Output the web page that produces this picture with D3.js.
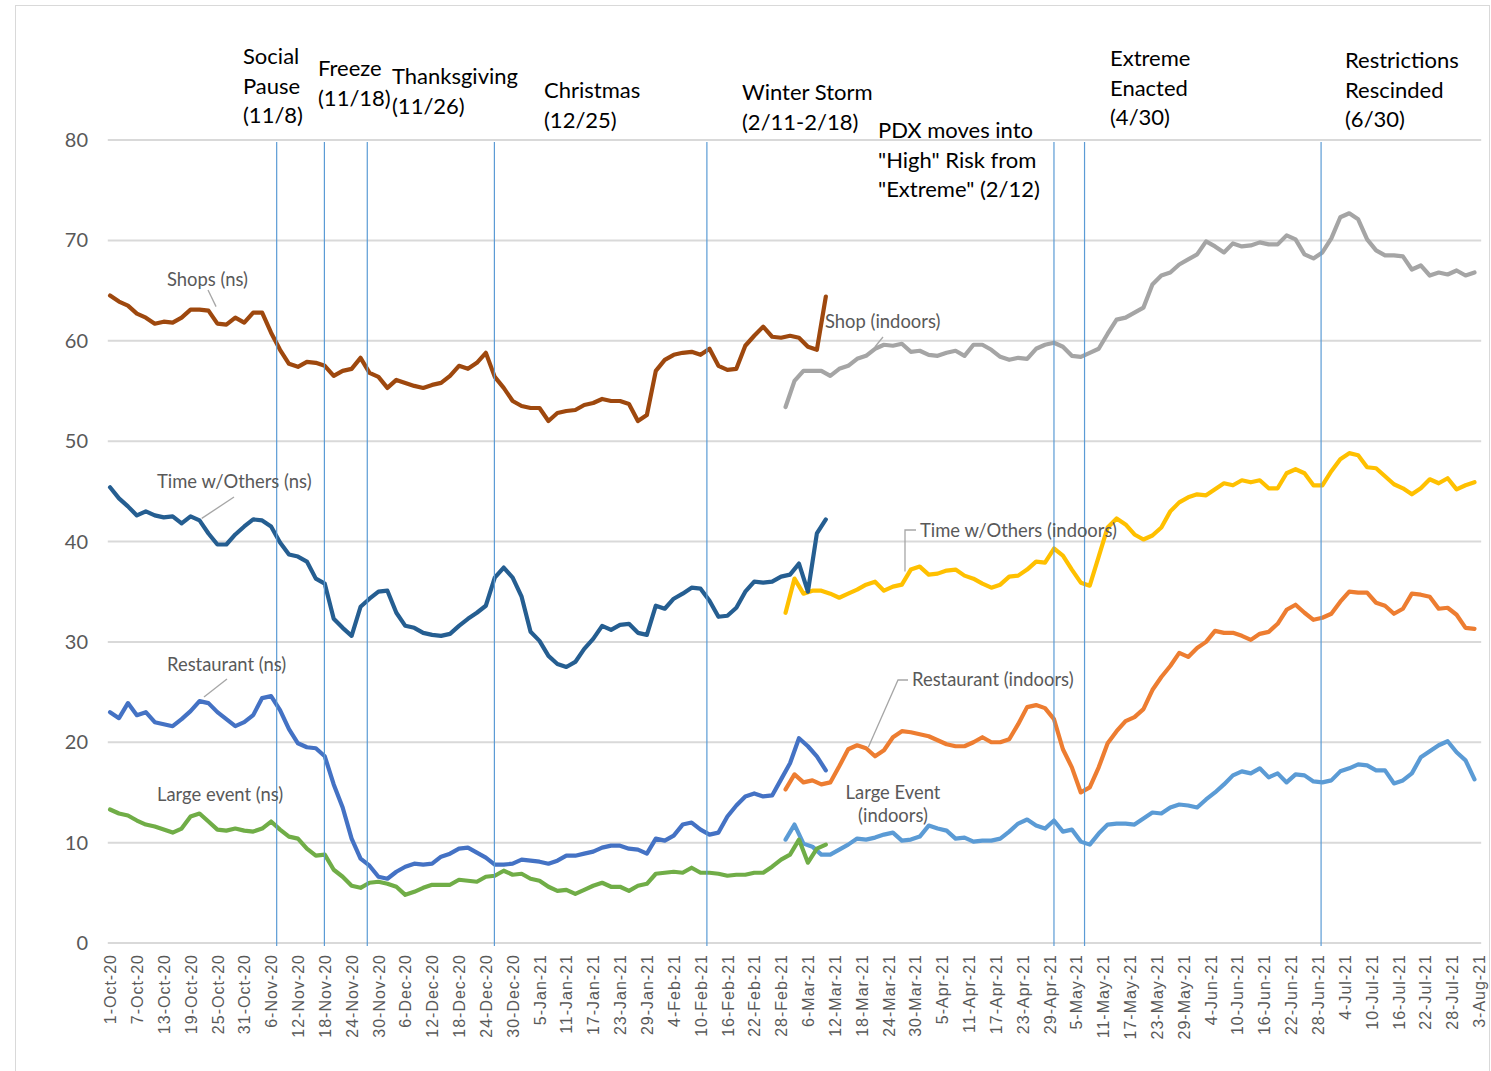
<!DOCTYPE html>
<html>
<head>
<meta charset="utf-8">
<script src="https://cdn.jsdelivr.net/npm/d3@7"></script>
<style>
  body { margin: 0; background: #fff; }
  svg { display: block; font-family: Lato, "Noto Sans", sans-serif; }
</style>
</head>
<body>
<div id="root"></div>
<script>
// "ns" series: every 2nd day from 1-Oct-20
const nsStart = "2020-10-01";
const shopsNs = [64.5,63.9,63.5,62.7,62.3,61.7,61.9,61.8,62.3,63.1,63.1,63.0,61.7,61.6,62.3,61.8,62.8,62.8,60.8,59.1,
  57.7,57.4,57.9,57.8,57.5,56.5,57.0,57.2,58.3,56.8,56.4,55.3,56.1,55.8,55.5,55.3,55.6,55.8,56.5,57.5,
  57.2,57.8,58.8,56.4,55.3,54.0,53.5,53.3,53.3,52.0,52.8,53.0,53.1,53.6,53.8,54.2,54.0,54.0,53.7,52.0,
  52.6,57.0,58.1,58.6,58.8,58.9,58.6,59.2,57.5,57.1,57.2,59.5,60.5,61.4,60.4,60.3,60.5,60.3,59.4,59.1,64.4];
const timeNs = [45.4,44.3,43.5,42.6,43.0,42.6,42.4,42.5,41.8,42.5,42.1,40.8,39.7,39.7,40.7,41.5,42.2,42.1,41.5,39.9,
  38.7,38.5,38.0,36.3,35.8,32.3,31.4,30.6,33.5,34.3,35.0,35.1,32.9,31.6,31.4,30.9,30.7,30.6,30.8,31.6,
  32.3,32.9,33.6,36.4,37.4,36.4,34.5,31.0,30.1,28.6,27.8,27.5,28.0,29.3,30.3,31.6,31.2,31.7,31.8,30.9,
  30.7,33.6,33.3,34.3,34.8,35.4,35.3,34.1,32.5,32.6,33.4,35.0,36.0,35.9,36.0,36.5,36.7,37.8,35.0,40.8,42.2];
const restaurantNs = [23.0,22.4,23.9,22.7,23.0,22.0,21.8,21.6,22.3,23.1,24.1,23.9,23.0,22.3,21.6,22.0,22.7,24.4,24.6,23.2,
  21.3,19.9,19.5,19.4,18.6,15.8,13.5,10.4,8.4,7.7,6.6,6.4,7.1,7.6,7.9,7.8,7.9,8.6,8.9,9.4,
  9.5,9.0,8.5,7.8,7.8,7.9,8.3,8.2,8.1,7.9,8.2,8.7,8.7,8.9,9.1,9.5,9.7,9.7,9.4,9.3,
  8.9,10.4,10.2,10.7,11.8,12.0,11.3,10.8,11.0,12.6,13.7,14.6,14.9,14.6,14.7,16.3,17.9,20.4,19.6,18.6,17.2];
const largeEventNs = [13.3,12.9,12.7,12.2,11.8,11.6,11.3,11.0,11.4,12.6,12.9,12.1,11.3,11.2,11.4,11.2,11.1,11.4,12.1,11.3,
  10.6,10.4,9.4,8.7,8.8,7.3,6.6,5.7,5.5,6.0,6.1,5.9,5.6,4.8,5.1,5.5,5.8,5.8,5.8,6.3,
  6.2,6.1,6.6,6.7,7.2,6.8,6.9,6.4,6.2,5.6,5.2,5.3,4.9,5.3,5.7,6.0,5.6,5.6,5.2,5.7,
  5.9,6.9,7.0,7.1,7.0,7.5,7.0,7.0,6.9,6.7,6.8,6.8,7.0,7.0,7.6,8.3,8.8,10.3,8.0,9.4,9.8];

// "indoors" series: every 2nd day from 1-Mar-21
const indoorStart = "2021-03-01";
const shopIndoors = [53.4,56.0,57.0,57.0,57.0,56.5,57.2,57.5,58.2,58.5,59.2,59.6,59.5,59.7,58.9,59.0,58.6,58.5,58.8,59.0,
  58.5,59.6,59.6,59.1,58.4,58.1,58.3,58.2,59.2,59.6,59.8,59.4,58.5,58.4,58.8,59.2,60.7,62.1,62.3,62.8,
  63.3,65.6,66.5,66.8,67.6,68.1,68.6,69.9,69.4,68.8,69.7,69.4,69.5,69.8,69.6,69.6,70.5,70.1,68.6,68.2,
  68.8,70.2,72.3,72.7,72.1,70.1,69.0,68.5,68.5,68.4,67.1,67.5,66.5,66.8,66.6,67.0,66.5,66.8];
const timeIndoors = [32.9,36.3,34.8,35.1,35.1,34.8,34.4,34.8,35.2,35.7,36.0,35.1,35.5,35.7,37.2,37.5,36.7,36.8,37.1,37.2,
  36.6,36.3,35.8,35.4,35.7,36.5,36.6,37.2,38.0,37.9,39.3,38.6,37.2,35.9,35.6,38.5,41.4,42.3,41.7,40.7,
  40.2,40.6,41.4,43.0,43.9,44.4,44.7,44.6,45.2,45.8,45.6,46.1,45.9,46.1,45.3,45.3,46.8,47.2,46.8,45.6,
  45.6,47.0,48.2,48.8,48.6,47.4,47.3,46.5,45.7,45.3,44.7,45.3,46.2,45.8,46.3,45.2,45.6,45.9];
const restaurantIndoors = [15.3,16.8,16.0,16.2,15.8,16.0,17.6,19.3,19.7,19.4,18.6,19.2,20.5,21.1,21.0,20.8,20.6,20.2,19.8,19.6,
  19.6,20.0,20.5,20.0,20.0,20.3,21.8,23.5,23.7,23.4,22.3,19.3,17.5,15.0,15.5,17.5,19.9,21.1,22.1,22.5,
  23.3,25.2,26.5,27.6,28.9,28.5,29.4,30.0,31.1,30.9,30.9,30.6,30.2,30.8,31.0,31.8,33.2,33.7,32.9,32.2,
  32.4,32.8,34.0,35.0,34.9,34.9,33.9,33.6,32.8,33.3,34.8,34.7,34.5,33.3,33.4,32.7,31.4,31.3];
const largeEventIndoors = [10.3,11.8,9.9,9.6,8.8,8.8,9.3,9.8,10.4,10.3,10.5,10.8,11.0,10.2,10.3,10.6,11.7,11.4,11.2,10.4,
  10.5,10.1,10.2,10.2,10.4,11.1,11.9,12.3,11.7,11.4,12.2,11.1,11.3,10.1,9.8,10.9,11.8,11.9,11.9,11.8,
  12.4,13.0,12.9,13.5,13.8,13.7,13.5,14.3,15.0,15.8,16.7,17.1,16.9,17.4,16.5,16.9,16.0,16.8,16.7,16.1,
  16.0,16.2,17.1,17.4,17.8,17.7,17.2,17.2,15.9,16.2,16.9,18.5,19.1,19.7,20.1,19.0,18.2,16.3];

const yTicks = [0, 10, 20, 30, 40, 50, 60, 70, 80];

// events: label lines and the date of the vertical marker
const eventNames = [
  ["Social", "Pause", "(11/8)"],
  ["Freeze", "(11/18)"],
  ["Thanksgiving", "(11/26)"],
  ["Christmas", "(12/25)"],
  ["Winter Storm", "(2/11-2/18)"],
  ["PDX moves into", "\"High\" Risk from", "\"Extreme\" (2/12)"],
  ["Extreme", "Enacted", "(4/30)"],
  ["Restrictions", "Rescinded", "(6/30)"]
];
const eventLineDates = ["2020-11-07T06:00", "2020-11-17T22:00", "2020-11-27T12:00", "2020-12-25T22:00",
  "2021-02-11T10:00", "2021-04-30T00:00", "2021-05-06T20:00", "2021-06-28T17:00"];

const seriesNames = ["Shops (ns)", "Time w/Others (ns)", "Restaurant (ns)", "Large event (ns)",
  "Shop (indoors)", "Time w/Others (indoors)", "Restaurant (indoors)", "Large Event (indoors)"];

// ---------- layout ----------
const W = 1491, H = 1071;
const DAY = 864e5;
const parse = (s) => new Date(s + (s.length > 10 ? "Z" : "T00:00Z"));
const t0 = parse("2020-10-01");
const dayDate = (d) => new Date(t0.getTime() + d * DAY);

const svg = d3.select("#root").append("svg").attr("width", W).attr("height", H);

svg.append("rect")
  .attr("x", 15.5).attr("y", 5.5).attr("width", 1474).attr("height", 1070)
  .attr("fill", "#fff").attr("stroke", "#d9d9d9");

const x = d3.scaleUtc().domain([dayDate(-0.5), dayDate(306.5)]).range([107.8, 1481.2]);
const y = d3.scaleLinear().domain([0, 80]).range([943, 140]);

// grid
svg.append("g").selectAll("line").data(yTicks).join("line")
  .attr("x1", x.range()[0]).attr("x2", x.range()[1])
  .attr("y1", (d) => y(d)).attr("y2", (d) => y(d))
  .attr("stroke", "#d9d9d9").attr("stroke-width", 2);

svg.append("g").selectAll("text").data(yTicks).join("text")
  .attr("x", 88).attr("y", (d) => y(d)).attr("dy", "0.35em")
  .attr("text-anchor", "end").attr("fill", "#595959")
  .style("font-size", "20px").text((d) => d);

// x axis labels
const fmt = d3.utcFormat("%-d-%b-%y");
const xAxis = svg.append("g").attr("transform", `translate(0,${y(0)})`)
  .call(d3.axisBottom(x).tickValues(d3.range(0, 307, 6).map(dayDate)).tickFormat(fmt).tickSize(0));
xAxis.select(".domain").remove();
xAxis.selectAll("text")
  .attr("transform", "rotate(-90)")
  .attr("text-anchor", "end")
  .attr("x", -11).attr("y", 0).attr("dy", "0.35em")
  .attr("fill", "#595959")
  .style("font-family", "'Liberation Sans', Arial, sans-serif")
  .style("font-size", "16px")
  .style("letter-spacing", "1px");

// series
const build = (startStr, vals) => {
  const s = parse(startStr);
  return vals.map((v, i) => ({ date: new Date(s.getTime() + i * 2 * DAY), v }));
};
const series = [
  { name: seriesNames[4], color: "#a5a5a5", data: build(indoorStart, shopIndoors) },
  { name: seriesNames[5], color: "#ffc000", data: build(indoorStart, timeIndoors) },
  { name: seriesNames[6], color: "#ed7d31", data: build(indoorStart, restaurantIndoors) },
  { name: seriesNames[7], color: "#5b9bd5", data: build(indoorStart, largeEventIndoors) },
  { name: seriesNames[0], color: "#9e480e", data: build(nsStart, shopsNs) },
  { name: seriesNames[1], color: "#255e91", data: build(nsStart, timeNs) },
  { name: seriesNames[2], color: "#4472c4", data: build(nsStart, restaurantNs) },
  { name: seriesNames[3], color: "#70ad47", data: build(nsStart, largeEventNs) }
];

const line = d3.line().x((d) => x(d.date)).y((d) => y(d.v));
svg.append("g").selectAll("path").data(series).join("path")
  .attr("d", (d) => line(d.data))
  .attr("fill", "none")
  .attr("stroke", (d) => d.color)
  .attr("stroke-width", 4.2)
  .attr("stroke-linejoin", "round")
  .attr("stroke-linecap", "round");

// event lines
svg.append("g").selectAll("line").data(eventLineDates.map(parse)).join("line")
  .attr("x1", (d) => x(d)).attr("x2", (d) => x(d))
  .attr("y1", y(79.8)).attr("y2", y(-0.3))
  .attr("stroke", "#5b9bd5").attr("stroke-width", 1.2);

// event labels
const eventPos = [[243, 64], [318, 76], [392, 84], [544, 98], [742, 100], [878, 138], [1110, 66], [1345, 68]];
eventNames.forEach((lines, i) => {
  const t = svg.append("text").attr("x", eventPos[i][0]).attr("y", eventPos[i][1])
    .attr("fill", "#000").style("font-size", "22px");
  lines.forEach((l, j) => t.append("tspan").attr("x", eventPos[i][0]).attr("dy", j ? 29.5 : 0).text(l));
});

// series labels with leaders
const labelPos = [
  { i: 0, x: 167, y: 286, lead: [[208, 290], [x(dayDate(23.7)), y(63.4)]] },
  { i: 1, x: 157, y: 488, lead: [[234, 497], [x(dayDate(20.5)), y(42.3)]] },
  { i: 2, x: 167, y: 671, lead: [[227, 679], [x(dayDate(21)), y(24.5)]] },
  { i: 3, x: 157, y: 801, lead: null },
  { i: 4, x: 825, y: 328, lead: [[883, 337], [x(dayDate(171)), y(59.4)]] },
  { i: 5, x: 920, y: 537, lead: [[916, 530], [905, 530], [x(dayDate(177.7)), y(37.0)]] },
  { i: 6, x: 912, y: 686, lead: [[908, 680], [898, 680], [x(dayDate(169.5)), y(19.5)]] }
];
labelPos.forEach((p) => {
  svg.append("text").attr("x", p.x).attr("y", p.y).attr("fill", "#595959")
    .style("font-size", "18.4px").text(seriesNames[p.i]);
  if (p.lead) {
    svg.append("path").attr("d", d3.line()(p.lead))
      .attr("fill", "none").attr("stroke", "#a6a6a6").attr("stroke-width", 1.3);
  }
});
const le = svg.append("text").attr("text-anchor", "middle").attr("fill", "#595959").style("font-size", "18.4px");
le.append("tspan").attr("x", 893).attr("y", 799).text("Large Event");
le.append("tspan").attr("x", 893).attr("y", 822).text("(indoors)");
</script>
</body>
</html>
